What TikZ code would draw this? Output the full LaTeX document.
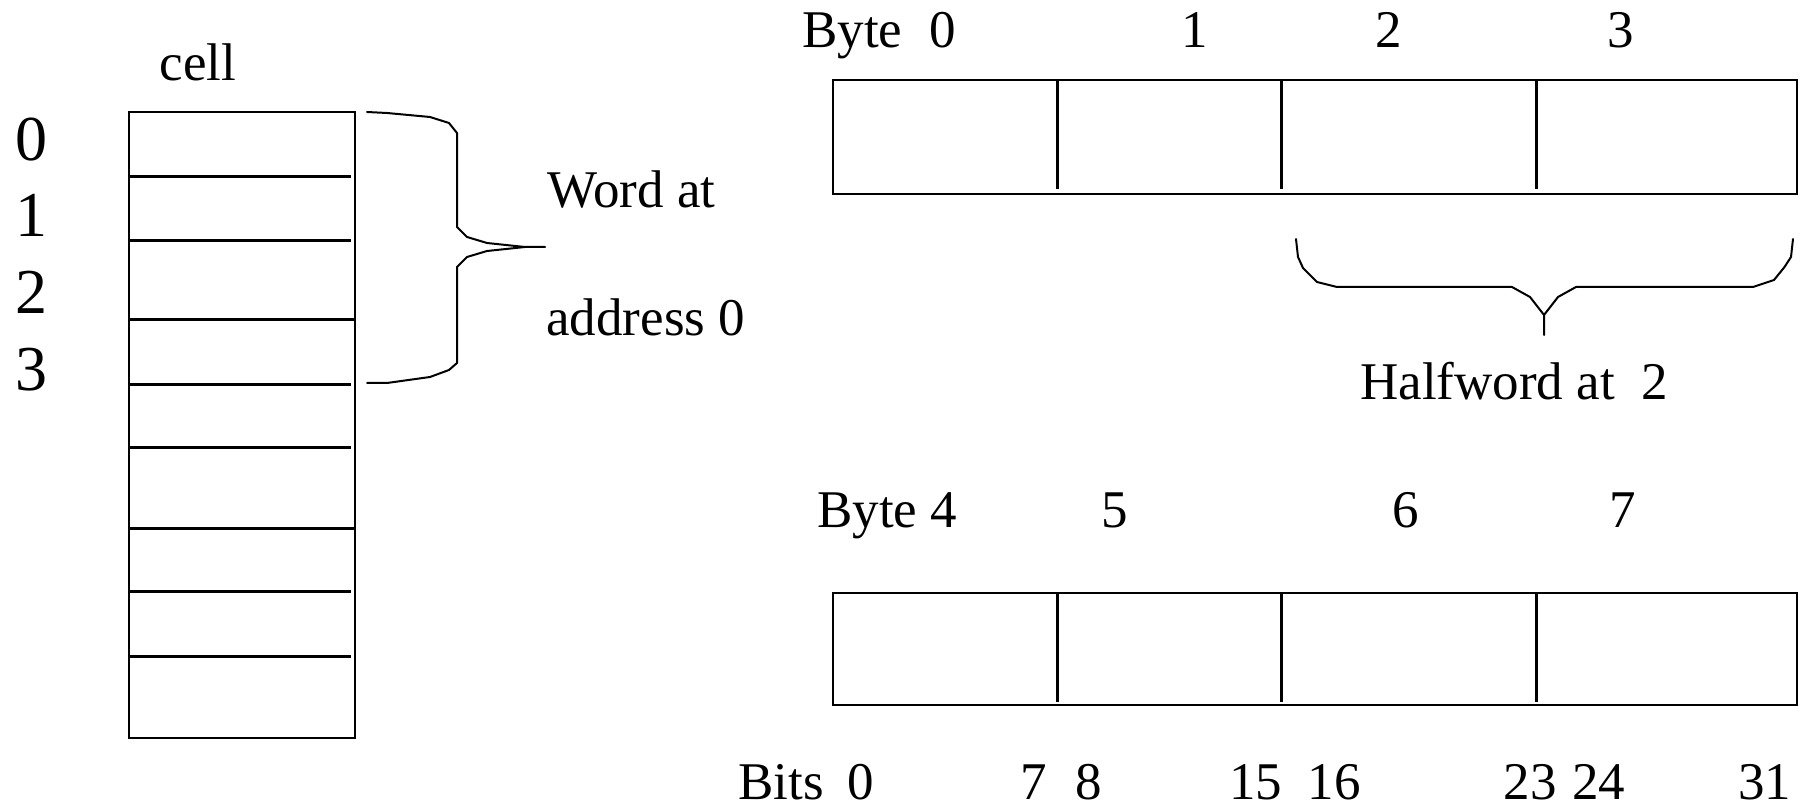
\documentclass[tikz,border=0pt]{standalone}
\usepackage{fontspec}
\setmainfont{Liberation Serif}
\begin{document}
\begin{tikzpicture}[x=0.5pt,y=-0.5pt,
  lbl/.style={inner sep=0pt,anchor=base,font=\fontsize{26.5}{30}\selectfont},
  lblw/.style={lbl,anchor=base west},
  addr/.style={inner sep=0pt,anchor=base,font=\fontsize{32}{36}\selectfont},
  frame/.style={draw,line width=1pt,inner sep=0pt},
  rule/.style={line width=1.5pt},
  brace/.style={line width=1pt,line join=round,line cap=round}]
\useasboundingbox (0,0) rectangle (1805,806);

% memory column
\node[frame,minimum width=226pt/2,minimum height=625.5pt/2,anchor=north west] (col) at (128,111.3) {};
\foreach \y in {176.6,240.5,384.2,447.8,591.7,656.2}
  \draw[rule] (130,\y) -- (351,\y);
\foreach \y in {320,528.4}
  \draw[rule] (128,\y) -- (354,\y);
\node[lbl] (cell) at (198,80.6) {cell};
\node[addr] (a0) at (31.7,160.7) {0};
\node[addr] (a1) at (31.7,236.5) {1};
\node[addr] (a2) at (31.7,313.5) {2};
\node[addr] (a3) at (31.7,390.5) {3};

% brace over the first four cells
\draw[brace] (367,112) -- (387,113) -- (430,117) -- (449,123) -- (457,133)
  -- (457,227) -- (467,237) -- (487,243) -- (525,247) -- (545,247);
\draw[brace] (525,247) -- (487,251) -- (467,257) -- (457,267)
  -- (457,363) -- (449,370) -- (430,377) -- (387,383) -- (367,383);
\node[lblw] (w1) at (547,207.3) {Word at};
\node[lblw] (w2) at (546,335.7) {address 0};

% first word
\node[frame,minimum width=964pt/2,minimum height=113.4pt/2,anchor=north west] (wa) at (831.5,79.3) {};
\foreach \x in {1057.8,1281.3,1536.9}
  \draw[rule] (\x,81) -- (\x,189);
\node[lblw] (b0) at (802,48) {Byte\ \ 0};
\node[lbl] (b1) at (1195,48) {1};
\node[lbl] (b2) at (1389,48) {2};
\node[lbl] (b3) at (1620.5,48) {3};

% brace under bytes 2 and 3
\draw[brace] (1296,239) -- (1298,257) -- (1303,268) -- (1317,282) -- (1337,287)
  -- (1512,287) -- (1530,297) -- (1544,315) -- (1544,335);
\draw[brace] (1544,315) -- (1558,297) -- (1576,287) -- (1753,287)
  -- (1774,280) -- (1784.5,267) -- (1791,257) -- (1793,239);
\node[lbl] (hw) at (1514,399.5) {Halfword at\ \ 2};

% second word
\node[frame,minimum width=964pt/2,minimum height=112.8pt/2,anchor=north west] (wb) at (831.5,591.7) {};
\foreach \x in {1057.8,1281.3,1536.9}
  \draw[rule] (\x,593.5) -- (\x,702);
\node[lblw] (b4) at (817,528) {Byte 4};
\node[lbl] (b5) at (1114.4,528) {5};
\node[lbl] (b6) at (1405.6,528) {6};
\node[lbl] (b7) at (1623.2,528) {7};

% bit numbers
\node[lblw] (bits) at (738,799) {Bits};
\foreach \x/\t in {861/0,1034/7,1089/8,1255.5/15,1334/16,1530/23,1598.5/24,1764.5/31}
  \node[lbl] at (\x,799) {\t};
\end{tikzpicture}
\end{document}
